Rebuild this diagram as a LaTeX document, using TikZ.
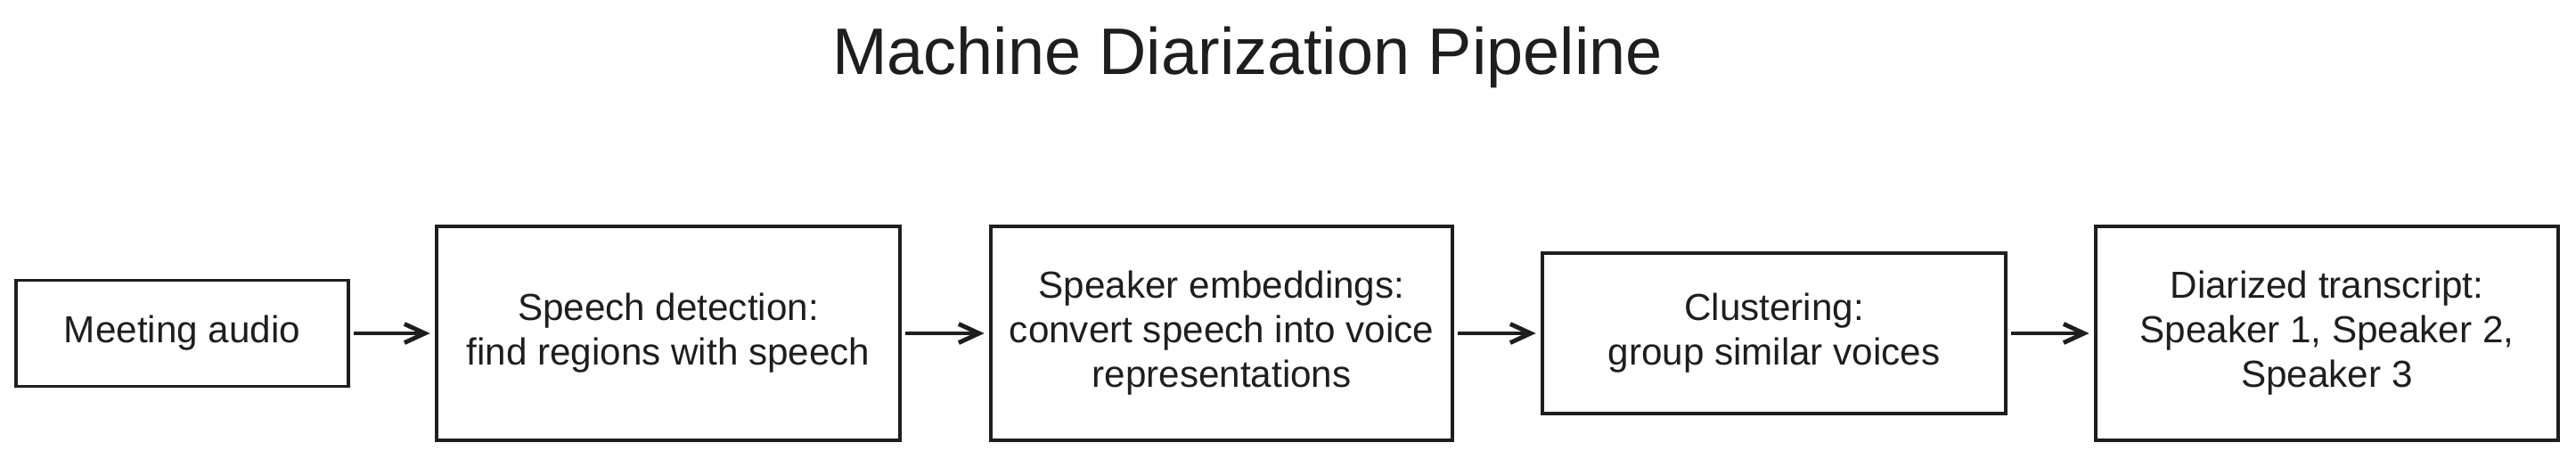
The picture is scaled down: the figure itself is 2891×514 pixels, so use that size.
\documentclass[tikz,border=0pt]{standalone}
\usepackage{fontspec}
\setmainfont{Liberation Sans}
\usetikzlibrary{arrows.meta}
\definecolor{ink}{HTML}{1E1E1E}

\begin{document}
\begin{tikzpicture}[x=0.01cm, y=-0.01cm,
            boxstyle/.style={draw=ink, line width=1.1pt, align=center, inner sep=0pt, text=ink, font=\fontsize{12}{14.2}\selectfont},
            arrowstyle/.style={draw=ink, line width=1.4pt, -{Straight Barb[length=6.5pt, width=6pt]}, shorten >=1.5pt, shorten <=1pt}]
            \useasboundingbox (0,0) rectangle (2891,514);

            \node[anchor=base, text=ink, font=\fontsize{21}{25}\selectfont] (title) at (1400,83) {Machine Diarization Pipeline};

            \node[boxstyle, minimum width=3.73cm, minimum height=1.19cm] (audio) at (204.5,374) {Meeting audio};
            \node[boxstyle, minimum width=5.20cm, minimum height=2.40cm] (detect) at (750,374) {Speech detection:\\find regions with speech};
            \node[boxstyle, minimum width=5.18cm, minimum height=2.40cm] (embed) at (1371,374) {Speaker embeddings:\\convert speech into voice\\representations};
            \node[boxstyle, minimum width=5.20cm, minimum height=1.80cm] (cluster) at (1991,374) {Clustering:\\group similar voices};
            \node[boxstyle, minimum width=5.19cm, minimum height=2.40cm] (result) at (2611.5,374) {Diarized transcript:\\Speaker 1, Speaker 2,\\Speaker 3};

            \foreach \a/\b in {audio/detect, detect/embed, embed/cluster, cluster/result}
            \draw[arrowstyle] (\a.east) -- (\b.west);
        \end{tikzpicture}
\end{document}
